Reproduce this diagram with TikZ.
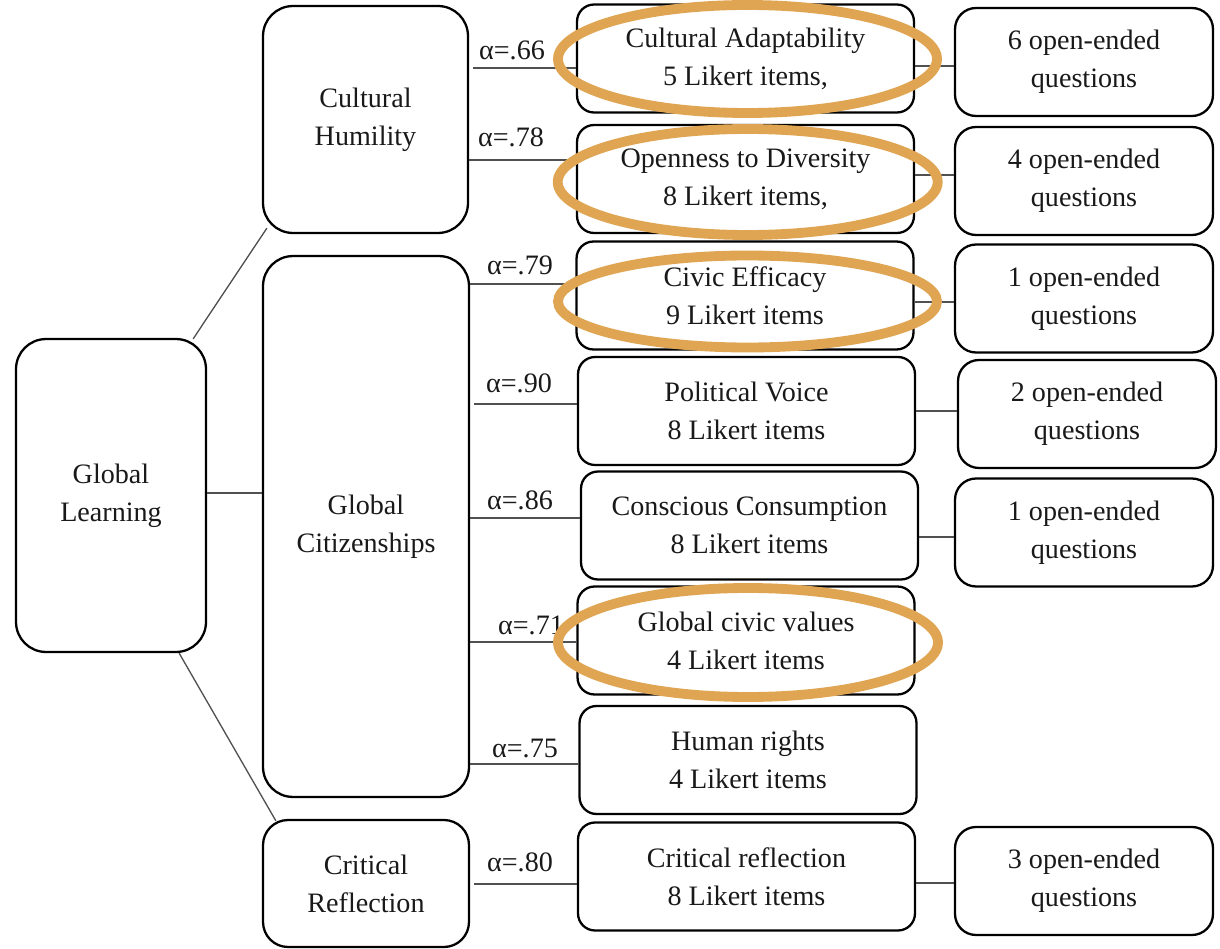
\documentclass[tikz,border=0pt]{standalone}
\usepackage{fontspec}
\setmainfont{Liberation Serif}
\usetikzlibrary{calc}
\definecolor{hlorange}{RGB}{224,165,82}
\definecolor{conncol}{RGB}{80,80,80}
\tikzset{
  basebox/.style={draw=black, line width=1.3pt, fill=white, align=center, inner sep=0pt,
    font=\fontsize{16}{21.6}\selectfont, text=black!90},
  bigbox/.style={basebox, rounded corners=0.6cm},
  midbox/.style={basebox, rounded corners=0.34cm, minimum width=6.74cm, minimum height=2.16cm},
  rbox/.style={basebox, rounded corners=0.42cm, minimum width=5.16cm, minimum height=2.16cm},
  conn/.style={draw=conncol, line width=0.75pt},
  alab/.style={inner sep=0pt, font=\fontsize{16}{21.6}\selectfont, text=black!90},
  hl/.style={draw=hlorange, line width=5.6pt}
}
\begin{document}
\begin{tikzpicture}[x=0.02cm, y=-0.02cm]
\useasboundingbox (0,0) rectangle (1220,949);

% left column
\node[bigbox, minimum width=3.8cm, minimum height=6.26cm] (GL) at (111,495.5) {Global\\Learning};
\node[bigbox, minimum width=4.1cm, minimum height=4.54cm] (CH) at (365.5,119.5) {Cultural\\Humility};
\node[bigbox, minimum width=4.12cm, minimum height=10.82cm] (GC) at (366,526.5) {Global\\Citizenships};
\node[bigbox, rounded corners=0.5cm, minimum width=4.12cm, minimum height=2.54cm] (CR) at (366,883.5) {Critical\\Reflection};

% middle column
\node[midbox] (CA) at (745.5,58.5) {Cultural Adaptability\\5 Likert items,};
\node[midbox] (OD) at (745.5,179) {Openness to Diversity\\8 Likert items,};
\node[midbox] (CE) at (745,295.5) {Civic Efficacy\\9 Likert items};
\node[midbox] (PV) at (746.5,411) {Political Voice\\8 Likert items};
\node[midbox] (CC) at (749.5,525.5) {Conscious Consumption\\8 Likert items};
\node[midbox] (GV) at (746,640.5) {Global civic values\\4 Likert items};
\node[midbox] (HR) at (748,760) {Human rights\\4 Likert items};
\node[midbox] (CF) at (746.5,876.5) {Critical reflection\\8 Likert items};

% right column
\node[rbox] (R1) at (1084,62) {6 open-ended\\questions};
\node[rbox] (R2) at (1084,181) {4 open-ended\\questions};
\node[rbox] (R3) at (1084,298.5) {1 open-ended\\questions};
\node[rbox] (R4) at (1087,414) {2 open-ended\\questions};
\node[rbox] (R5) at (1084,532.5) {1 open-ended\\questions};
\node[rbox] (R6) at (1084,881) {3 open-ended\\questions};

% connectors left
\draw[conn] ($(GL.north east)+(-14,1)$) -- ($(CH.south west)+(5,-6)$);
\draw[conn] (GL.east |- 0,493) -- (GC.west |- 0,493);
\draw[conn] ($(GL.south east)+(-28,0)$) -- ($(CR.north west)+(14,2)$);

% connectors to middle
\draw[conn] ($(CH.east |- 0,68)+(4,0)$) -- (CA.west |- 0,68);
\draw[conn] (CH.east |- 0,160) -- (OD.west |- 0,160);
\draw[conn] (GC.east |- 0,284) -- (CE.west |- 0,284);
\draw[conn] ($(GC.east |- 0,404)+(4,0)$) -- (PV.west |- 0,404);
\draw[conn] (GC.east |- 0,518) -- (CC.west |- 0,518);
\draw[conn] (GC.east |- 0,642) -- (GV.west |- 0,642);
\draw[conn] (GC.east |- 0,764) -- (HR.west |- 0,764);
\draw[conn] ($(CR.east |- 0,884)+(4,0)$) -- (CF.west |- 0,884);

% connectors to right
\draw[conn] (CA.east |- 0,66) -- (R1.west |- 0,66);
\draw[conn] (OD.east |- 0,175) -- (R2.west |- 0,175);
\draw[conn] (CE.east |- 0,302) -- (R3.west |- 0,302);
\draw[conn] (PV.east |- 0,411) -- (R4.west |- 0,411);
\draw[conn] (CC.east |- 0,537) -- (R5.west |- 0,537);
\draw[conn] (CF.east |- 0,883) -- (R6.west |- 0,883);

% alpha labels
\node[alab] (a1) at (512,50) {α=.66};
\node[alab] (a2) at (511,137) {α=.78};
\node[alab] (a3) at (520,265) {α=.79};
\node[alab] (a4) at (519,383) {α=.90};
\node[alab] (a5) at (520,500) {α=.86};
\node[alab] (a6) at (531,625) {α=.71};
\node[alab] (a7) at (525,748) {α=.75};
\node[alab] (a8) at (520,862) {α=.80};

% orange highlight ellipses
\draw[hl] (747.5,59) ellipse [x radius=189.5, y radius=54];
\draw[hl] (747.7,182) ellipse [x radius=190, y radius=53];
\draw[hl] (747.5,301.5) ellipse [x radius=189.5, y radius=46];
\draw[hl] (748,642.5) ellipse [x radius=190, y radius=54.5];
\end{tikzpicture}
\end{document}
